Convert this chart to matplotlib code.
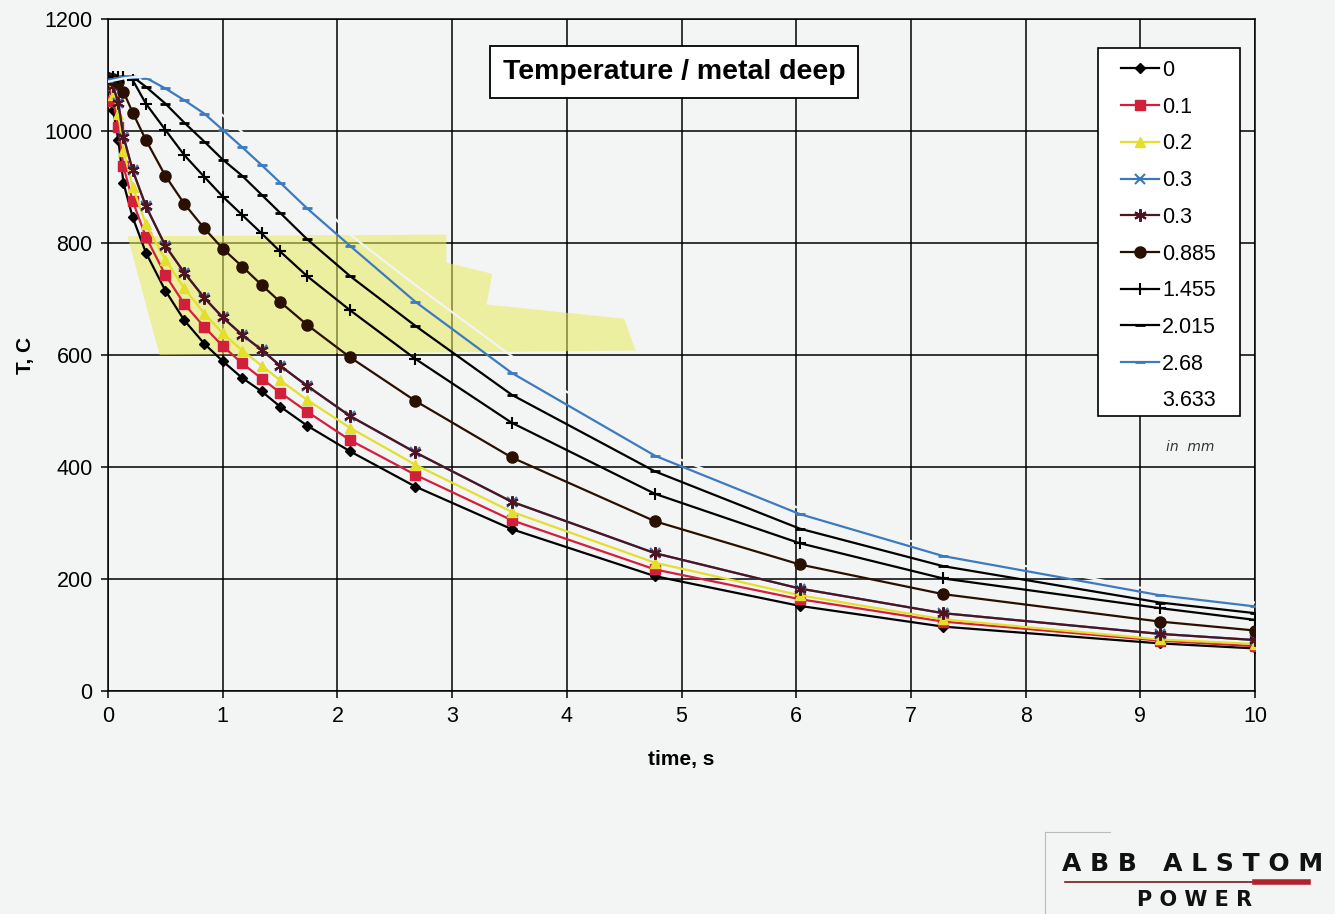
import matplotlib
matplotlib.use("Agg")
import matplotlib.pyplot as plt
from matplotlib.patches import Polygon, Rectangle

plt.rcParams['font.family'] = ['Liberation Sans', 'DejaVu Sans']

times = [0, 0.045, 0.09, 0.135, 0.215, 0.33, 0.5, 0.665, 0.84, 1.0, 1.17, 1.34, 1.5, 1.735,
         2.11, 2.68, 3.52, 4.77, 6.03, 7.28, 9.17, 10.0]

depth_labels = ["0", "0.1", "0.2", "0.3", "0.3", "0.885", "1.455", "2.015", "2.68", "3.633"]

t_0 = [1095, 1037, 984, 907, 846, 783, 715, 662, 620, 589, 559, 535, 508, 474, 428, 365, 289, 205, 152, 115, 85, 76]
t_01 = [1095, 1053, 1008, 937, 875, 811, 743, 691, 650, 616, 585, 558, 533, 499, 448, 386, 305, 217, 164, 124, 90, 80]
t_02 = [1095, 1065, 1030, 965, 900, 834, 770, 719, 674, 639, 608, 581, 555, 520, 470, 404, 320, 229, 171, 128, 92, 84]
t_03 = [1095, 1080, 1050, 990, 930, 866, 795, 747, 702, 667, 636, 609, 581, 545, 491, 426, 338, 246, 183, 139, 102, 91]
t_0885 = [1095, 1092, 1088, 1070, 1033, 984, 920, 870, 826, 790, 758, 725, 695, 654, 596, 518, 417, 303, 226, 173, 124, 108]
t_1455 = [1095, 1096, 1097, 1097, 1091, 1049, 1002, 957, 918, 883, 850, 817, 785, 741, 680, 593, 479, 352, 264, 201, 148, 127]
t_2015 = [1092, 1094, 1096, 1097, 1097, 1079, 1049, 1015, 981, 949, 920, 886, 854, 807, 741, 652, 529, 392, 290, 223, 158, 139]
t_268 = [1090, 1092, 1094, 1096, 1097, 1095, 1076, 1055, 1031, 1002, 971, 939, 908, 862, 795, 695, 568, 420, 316, 241, 171, 151]
t_3633 = [1088, 1090, 1092, 1094, 1096, 1097, 1092, 1078, 1055, 1028, 998, 968, 940, 897, 815, 725, 598, 432, 326, 251, 178, 158]

series = [t_0, t_01, t_02, t_03, t_03, t_0885, t_1455, t_2015, t_268, t_3633]

bg = "#f3f4f4"

# colour, marker, marker size, marker edge width
styles = [
    ("black", "D", 5, 1),
    ("#d21f3c", "s", 7, 1),
    ("#e3df2c", "^", 7, 1),
    ("#3a78b8", "x", 7, 1.5),
    ("#4e1422", (6, 2, 0), 9, 1.5),
    ("#2a1000", "o", 8, 1),
    ("black", "+", 9, 1.5),
    ("black", "_", 7, 2),
    ("#3d7ac0", "_", 7, 2),
    (bg, "None", 1, 1),
]

fig = plt.figure(figsize=(13.35, 9.14), dpi=100, facecolor=bg)
ax = fig.add_axes([108/1335, 1-691/914, 1147/1335, 672/914])
ax.set_facecolor(bg)

# yellow highlighter marks
hl = Polygon([(0.17, 812), (2.95, 815), (2.95, 765), (3.35, 745), (3.3, 690), (4.5, 665),
              (4.6, 608), (0.45, 600)], closed=True, facecolor="#e6ec5a", alpha=0.55,
             edgecolor="none", zorder=1)
ax.add_patch(hl)

for vals, lab, (col, mk, ms, mew) in zip(series, depth_labels, styles):
    ax.plot(times, vals, color=col, lw=1.6, marker=mk, ms=ms, mew=mew,
            mfc=col, mec=col, label=lab, zorder=3)

ax.set_xlim(0, 10)
ax.set_ylim(0, 1200)
ax.set_xticks(range(0, 11))
ax.set_yticks(range(0, 1201, 200))
ax.grid(True, color="black", lw=1.1, zorder=2)
ax.set_axisbelow(True)
for s in ax.spines.values():
    s.set_color("black")
    s.set_linewidth(1.1)
ax.tick_params(labelsize=15.5, length=5, width=1.1, direction="out", pad=6)

ax.set_xlabel("time, s", fontsize=15, fontweight="bold", labelpad=16)
ax.set_ylabel("T, C", fontsize=15, fontweight="bold")
ax.yaxis.set_label_coords((35-108)/1147, 0.5)

ax.text(0.4935, 0.921, "Temperature / metal deep", transform=ax.transAxes, ha="center", va="center",
        fontsize=20.5, fontweight="bold", zorder=6,
        bbox=dict(boxstyle="square,pad=0.45", facecolor="white", edgecolor="black", lw=1.3))

# legend frame drawn separately to match the wide box
ax.add_patch(Rectangle((1098/1335, 1-416/914), 142/1335, 368/914, transform=fig.transFigure,
                       facecolor="white", edgecolor="black", lw=1.2, zorder=6, clip_on=False))
leg = ax.legend(loc="upper left", bbox_to_anchor=(1121/1335, 1-60/914),
                bbox_transform=fig.transFigure, fontsize=15.5, frameon=False,
                handlelength=1.75, handletextpad=0.15, labelspacing=0.73,
                borderaxespad=0, borderpad=0)
leg.set_zorder(7)
leg.get_lines()[-1].set_color("white")

fig.text(1190/1335, 1-447/914, "in  mm", fontsize=10, style="italic",
         family="DejaVu Sans", color="#333333", ha="center", va="center")

# logo
fig.text(1193/1335, 1-864/914, "A B B   A L S T O M", fontsize=18, fontweight="heavy",
         family="DejaVu Sans", ha="center", va="center", color="#111111")
fig.add_artist(plt.Line2D([1065/1335, 1262/1335], [1-882/914, 1-882/914], color="#7a1a1a", lw=1.2))
fig.add_artist(plt.Line2D([1255/1335, 1308/1335], [1-882/914, 1-882/914], color="#b0222c", lw=4))
fig.text(1195/1335, 1-900/914, "P O W E R", fontsize=15, fontweight="heavy",
         family="DejaVu Sans", ha="center", va="center", color="#111111")
fig.add_artist(plt.Line2D([1045/1335, 1045/1335], [0, 1-832/914], color="#bbbbbb", lw=0.8))
fig.add_artist(plt.Line2D([1045/1335, 1110/1335], [1-832/914, 1-832/914], color="#bbbbbb", lw=0.8))

fig.savefig("out.png", dpi=100, facecolor=bg)
